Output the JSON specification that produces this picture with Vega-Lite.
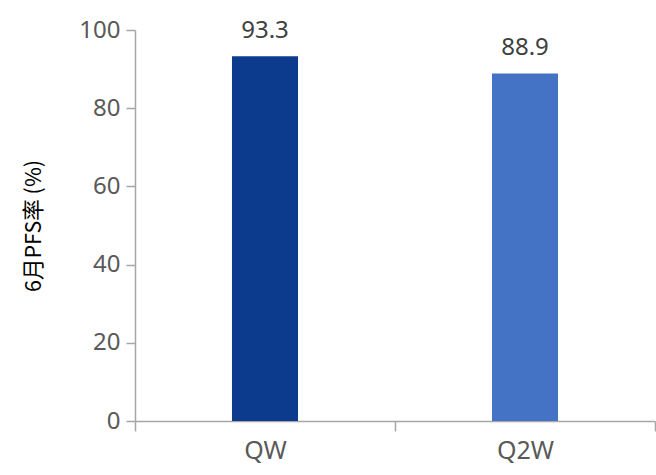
{
  "$schema": "https://vega.github.io/schema/vega-lite/v6.json",
  "autosize": "none",
  "width": 520,
  "height": 391,
  "padding": {"left": 135, "top": 30, "right": 1, "bottom": 54},
  "background": "white",
  "config": {"view": {"stroke": null}, "font": "Noto Sans"},
  "data": {"values": [
    {"group": "QW", "rate": 93.3},
    {"group": "Q2W", "rate": 88.9}
  ]},
  "encoding": {
    "x": {"field": "group", "type": "nominal", "sort": ["QW", "Q2W"],
      "scale": {"paddingInner": 0, "paddingOuter": 0},
      "axis": {"title": null, "labelAngle": 0, "tickBand": "extent", "domainColor": "#a6a6a6", "tickColor": "#a6a6a6", "tickSize": 10, "labelPadding": 7, "labelFontSize": 25, "labelColor": "#595959", "labelFont": "Noto Sans", "domainWidth": 1.5, "tickWidth": 1.5}},
    "y": {"field": "rate", "type": "quantitative",
      "scale": {"domain": [0, 100]},
      "axis": {"title": "6月PFS率 (%)", "values": [0, 20, 40, 60, 80, 100], "grid": false, "domainColor": "#a6a6a6", "tickColor": "#a6a6a6", "tickSize": 9, "labelPadding": 6, "labelFontSize": 24, "labelColor": "#595959", "labelFont": "Noto Sans", "titleFont": "Noto Sans CJK SC", "titleFontSize": 21.5, "titleFontWeight": "normal", "titleColor": "#000000", "titlePadding": 33, "domainWidth": 1.5, "tickWidth": 1.5}}
  },
  "layer": [
    {"mark": {"type": "bar", "width": {"band": 0.254}},
      "encoding": {"color": {"field": "group", "type": "nominal", "scale": {"domain": ["QW", "Q2W"], "range": ["#0c3a8c", "#4472c4"]}, "legend": null}}},
    {"mark": {"type": "text", "baseline": "bottom", "dy": -13, "fontSize": 24, "font": "Noto Sans", "color": "#404040"},
      "encoding": {"text": {"field": "rate", "type": "quantitative", "format": ".1f"}}}
  ]
}
